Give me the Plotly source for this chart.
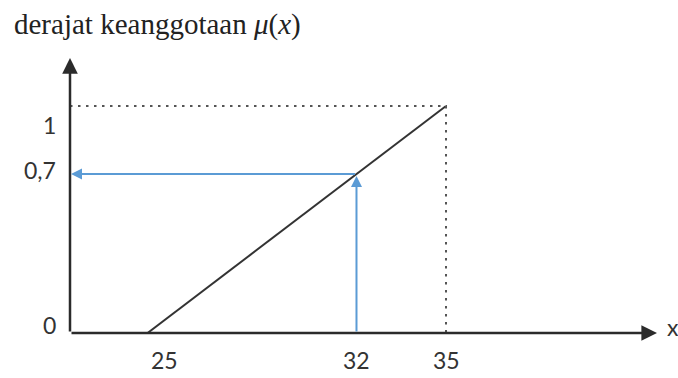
import plotly.graph_objects as go

# Membership function: linear rise from x = 25 (mu = 0) to x = 35 (mu = 1)
x_points = [25, 35]
mu_points = [0, 1]

# Evaluated input and its membership degree
x_input = 32
mu_output = 0.7

x_tick_values = [25, 32, 35]
x_tick_labels = ["25", "32", "35"]
y_tick_values = [0, 0.7, 1]
y_tick_labels = ["0", "0,7", "1"]

# Axis extents (the axes are drawn as arrows spanning these ranges)
X_MIN, X_MAX = 22.4, 42.07
Y_MIN, Y_MAX = 0.0, 1.2115

AXIS_COLOR = "#2b2b2b"
GUIDE_COLOR = "#555555"
BLUE = "#5b9bd5"
TICK_FONT = dict(family="Lato, 'Open Sans', sans-serif", size=23, color="#333333")

# label nudges in pixels
x_label_shift = {"25": 17, "32": 0, "35": 0}
y_label_shift = {"0": 8, "0,7": 4, "1": -19}

fig = go.Figure()

# membership line
fig.add_trace(go.Scatter(
    x=x_points, y=mu_points, mode="lines",
    line=dict(color="#333333", width=2),
    hoverinfo="skip", showlegend=False,
))

# dotted guides at mu = 1
fig.add_trace(go.Scatter(
    x=[X_MIN, x_points[1], x_points[1]],
    y=[mu_points[1], mu_points[1], mu_points[0]],
    mode="lines",
    line=dict(color=GUIDE_COLOR, width=2, dash="2.5px,5.5px"),
    hoverinfo="skip", showlegend=False,
))


def arrow(x0, y0, x1, y1, color, width, size, standoff=0):
    fig.add_annotation(
        x=x1, y=y1, ax=x0, ay=y0,
        xref="x", yref="y", axref="x", ayref="y",
        text="", showarrow=True, arrowhead=2,
        arrowsize=size, arrowwidth=width, arrowcolor=color,
        standoff=standoff,
    )


# coordinate axes
arrow(X_MIN, Y_MIN, X_MAX, Y_MIN, AXIS_COLOR, 2.5, 1.25)
arrow(X_MIN, Y_MIN, X_MIN, Y_MAX, AXIS_COLOR, 2.5, 1.25)

# input -> membership degree
arrow(x_input, Y_MIN, x_input, mu_output, BLUE, 2, 1.1, standoff=2)
arrow(x_input, mu_output, X_MIN, mu_output, BLUE, 2, 1.1, standoff=1)

# tick labels
for v, t in zip(x_tick_values, x_tick_labels):
    fig.add_annotation(
        x=v, y=-0.098, xref="x", yref="paper", text=t, showarrow=False,
        font=TICK_FONT, xanchor="center", yanchor="middle",
        xshift=x_label_shift[t],
    )
for v, t in zip(y_tick_values, y_tick_labels):
    fig.add_annotation(
        x=-0.02, y=v, xref="paper", yref="y", text=t, showarrow=False,
        font=TICK_FONT, xanchor="right", yanchor="middle",
        yshift=y_label_shift[t],
    )

# axis titles
fig.add_annotation(
    x=-0.099, y=1.12, xref="paper", yref="paper",
    text="derajat keanggotaan <i>μ</i>(<i>x</i>)", showarrow=False,
    font=dict(family="'Liberation Serif', 'Times New Roman', serif", size=29, color="#222222"),
    xanchor="left", yanchor="middle",
)
fig.add_annotation(
    x=1.027, y=0.022, xref="paper", yref="paper",
    text="x", showarrow=False,
    font=dict(family="Lato, 'Open Sans', sans-serif", size=23, color="#333333"),
    xanchor="center", yanchor="middle",
)

fig.update_xaxes(range=[X_MIN, X_MAX], visible=False)
fig.update_yaxes(range=[Y_MIN, Y_MAX], visible=False)
fig.update_layout(
    width=678, height=378,
    margin=dict(l=70, r=21, t=58, b=45),
    plot_bgcolor="white", paper_bgcolor="white",
    showlegend=False,
)

fig.write_html("out.html")
